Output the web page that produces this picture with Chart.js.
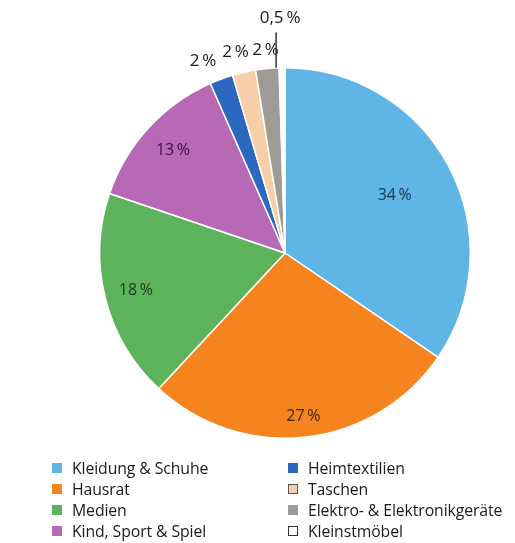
<!DOCTYPE html>
<html>
<head>
<meta charset="utf-8">
<script src="https://cdn.jsdelivr.net/npm/chart.js@4.4.1/dist/chart.umd.min.js"></script>
<style>
  html, body { margin: 0; padding: 0; background: #fff; }
  #wrap { position: relative; width: 515px; height: 543px; }
  #legende {
    position: absolute; left: 52px; top: 457px;
    display: grid; grid-auto-flow: column;
    grid-template-columns: 236px 230px; grid-template-rows: repeat(4, 21px);
    font: 15.8px "Open Sans", sans-serif; color: #1a1a1a; letter-spacing: -0.1px;
  }
  .eintrag { display: flex; align-items: center; white-space: nowrap; }
  .box { width: 10px; height: 10px; margin-right: 10px; box-sizing: border-box; }
</style>
</head>
<body>
<div id="wrap">
  <canvas id="grafik" width="515" height="543"></canvas>
  <div id="legende"></div>
</div>
<script>
const kategorien = ['Kleidung & Schuhe', 'Hausrat', 'Medien', 'Kind, Sport & Spiel',
  'Heimtextilien', 'Taschen', 'Elektro- & Elektronikgeräte', 'Kleinstmöbel'];
const anteile = [34, 27, 18, 13, 2, 2, 2, 0.5];
const beschriftungen = ['34\u2009%', '27\u2009%', '18\u2009%', '13\u2009%', '2\u2009%', '2\u2009%', '2\u2009%', '0,5\u2009%'];

const farben = ['#5fb5e6', '#f5841f', '#5cb35b', '#b769b6', '#2c68bf', '#f6cfa8', '#9e9b97', '#ffffff'];
const textFarben = ['#1b3347', '#42240e', '#1a361a', '#381638', '#1a1a1a', '#1a1a1a', '#1a1a1a', '#1a1a1a'];
const legendeRand = [null, null, null, null, null, '#555', null, '#333'];
// Abstand der Beschriftung vom Mittelpunkt (Anteil am Radius) und seitliche Verschiebung
const labelRadius = [0.67, 0.89, 0.83, 0.82, 1.1, 1.11, 1.1, 1.27];
const labelVersatz = [0, 0, 0, 0, -12, -4, 0, 0];

const beschriftungPlugin = {
  id: 'beschriftung',
  afterDatasetsDraw(chart) {
    const ctx = chart.ctx;
    const meta = chart.getDatasetMeta(0);
    meta.data.forEach((arc, i) => {
      const { x, y, startAngle, endAngle, outerRadius } =
        arc.getProps(['x', 'y', 'startAngle', 'endAngle', 'outerRadius'], true);
      const mitte = (startAngle + endAngle) / 2;
      const aussen = labelRadius[i] > 1;
      const r = outerRadius * labelRadius[i];
      let lx = x + Math.cos(mitte) * r + labelVersatz[i];
      const ly = y + Math.sin(mitte) * r;
      ctx.save();
      // senkrechte Hinweislinie für das kleinste Segment
      if (i === anteile.length - 1) {
        const lineX = x + Math.cos(startAngle) * outerRadius - 3;
        ctx.strokeStyle = '#333';
        ctx.lineWidth = 1.5;
        ctx.beginPath();
        ctx.moveTo(lineX, y - outerRadius * 1.0);
        ctx.lineTo(lineX, y - outerRadius * 1.19);
        ctx.stroke();
        lx = lineX + 4;
      }
      ctx.fillStyle = textFarben[i];
      ctx.font = (aussen ? '17px' : '16px') + ' "Open Sans", sans-serif';
      ctx.textAlign = 'center';
      ctx.textBaseline = 'middle';
      ctx.fillText(beschriftungen[i], lx, ly);
      ctx.restore();
    });
  }
};

const grafik = new Chart(document.getElementById('grafik'), {
  type: 'pie',
  data: {
    labels: kategorien,
    datasets: [{
      data: anteile,
      backgroundColor: farben,
      borderColor: '#fff',
      borderWidth: 1.5,
    }],
  },
  options: {
    responsive: false,
    animation: false,
    layout: { padding: { left: 99, right: 44, top: 67, bottom: 104 } },
    plugins: {
      legend: { display: false },
      tooltip: { enabled: false },
    },
  },
  plugins: [beschriftungPlugin],
});

// Legende in zwei Spalten
const legende = document.getElementById('legende');
Chart.overrides.pie.plugins.legend.labels.generateLabels(grafik).forEach((item, i) => {
  const eintrag = document.createElement('div');
  eintrag.className = 'eintrag';
  const box = document.createElement('span');
  box.className = 'box';
  box.style.background = item.fillStyle;
  if (legendeRand[i]) box.style.border = '1.3px solid ' + legendeRand[i];
  eintrag.appendChild(box);
  eintrag.appendChild(document.createTextNode(item.text));
  legende.appendChild(eintrag);
});
</script>
</body>
</html>
